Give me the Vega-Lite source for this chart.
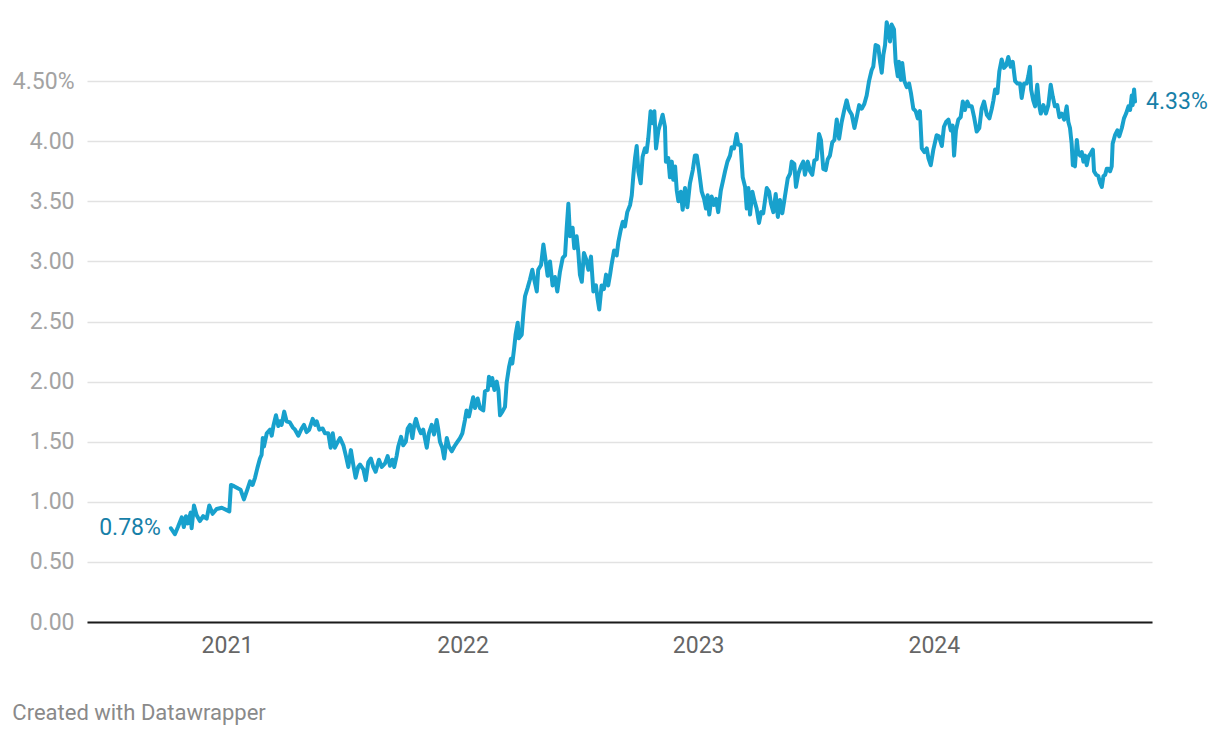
{
  "$schema": "https://vega.github.io/schema/vega-lite/v6.json",
  "width": 1065,
  "height": 601,
  "autosize": "none",
  "padding": {"left": 87, "top": 21, "right": 68, "bottom": 116},
  "background": "white",
  "config": {
    "font": "Roboto",
    "view": {"stroke": null},
    "axis": {"labelFont": "Roboto", "titleFont": "Roboto"}
  },
  "title": {
    "text": "Created with Datawrapper",
    "orient": "bottom",
    "anchor": "start",
    "frame": "bounds",
    "offset": 46,
    "font": "Roboto",
    "fontSize": 22,
    "fontWeight": "normal",
    "color": "#8a8a8a"
  },
  "datasets": {
    "series": [
      {"t": 2020.762, "v": 0.78}, {"t": 2020.779, "v": 0.73}, {"t": 2020.792, "v": 0.79}, {"t": 2020.808, "v": 0.87},
      {"t": 2020.817, "v": 0.79}, {"t": 2020.826, "v": 0.88}, {"t": 2020.834, "v": 0.82}, {"t": 2020.846, "v": 0.91},
      {"t": 2020.850, "v": 0.78}, {"t": 2020.860, "v": 0.97}, {"t": 2020.871, "v": 0.89}, {"t": 2020.885, "v": 0.84},
      {"t": 2020.899, "v": 0.88}, {"t": 2020.914, "v": 0.86}, {"t": 2020.925, "v": 0.97}, {"t": 2020.939, "v": 0.90},
      {"t": 2020.956, "v": 0.94}, {"t": 2020.978, "v": 0.95}, {"t": 2021.010, "v": 0.92}, {"t": 2021.017, "v": 1.14},
      {"t": 2021.030, "v": 1.13}, {"t": 2021.048, "v": 1.11}, {"t": 2021.058, "v": 1.10}, {"t": 2021.072, "v": 1.02},
      {"t": 2021.086, "v": 1.10}, {"t": 2021.098, "v": 1.17}, {"t": 2021.109, "v": 1.14}, {"t": 2021.119, "v": 1.20},
      {"t": 2021.129, "v": 1.28}, {"t": 2021.140, "v": 1.36}, {"t": 2021.147, "v": 1.39}, {"t": 2021.152, "v": 1.53},
      {"t": 2021.157, "v": 1.46}, {"t": 2021.169, "v": 1.57}, {"t": 2021.183, "v": 1.60}, {"t": 2021.190, "v": 1.55},
      {"t": 2021.197, "v": 1.63}, {"t": 2021.208, "v": 1.72}, {"t": 2021.218, "v": 1.63}, {"t": 2021.225, "v": 1.67},
      {"t": 2021.232, "v": 1.64}, {"t": 2021.243, "v": 1.75}, {"t": 2021.253, "v": 1.67}, {"t": 2021.267, "v": 1.66},
      {"t": 2021.279, "v": 1.62}, {"t": 2021.289, "v": 1.60}, {"t": 2021.303, "v": 1.55}, {"t": 2021.317, "v": 1.61},
      {"t": 2021.327, "v": 1.64}, {"t": 2021.338, "v": 1.58}, {"t": 2021.349, "v": 1.60}, {"t": 2021.364, "v": 1.69},
      {"t": 2021.374, "v": 1.64}, {"t": 2021.381, "v": 1.67}, {"t": 2021.392, "v": 1.60}, {"t": 2021.406, "v": 1.61},
      {"t": 2021.416, "v": 1.57}, {"t": 2021.430, "v": 1.57}, {"t": 2021.440, "v": 1.45}, {"t": 2021.449, "v": 1.57},
      {"t": 2021.458, "v": 1.45}, {"t": 2021.468, "v": 1.49}, {"t": 2021.480, "v": 1.53}, {"t": 2021.494, "v": 1.47},
      {"t": 2021.505, "v": 1.38}, {"t": 2021.515, "v": 1.29}, {"t": 2021.526, "v": 1.43}, {"t": 2021.536, "v": 1.31},
      {"t": 2021.546, "v": 1.20}, {"t": 2021.557, "v": 1.29}, {"t": 2021.565, "v": 1.31}, {"t": 2021.579, "v": 1.27},
      {"t": 2021.589, "v": 1.18}, {"t": 2021.600, "v": 1.33}, {"t": 2021.611, "v": 1.36}, {"t": 2021.621, "v": 1.29},
      {"t": 2021.631, "v": 1.25}, {"t": 2021.645, "v": 1.35}, {"t": 2021.657, "v": 1.29}, {"t": 2021.671, "v": 1.32},
      {"t": 2021.682, "v": 1.38}, {"t": 2021.692, "v": 1.30}, {"t": 2021.702, "v": 1.35}, {"t": 2021.710, "v": 1.29},
      {"t": 2021.720, "v": 1.38}, {"t": 2021.727, "v": 1.46}, {"t": 2021.739, "v": 1.54}, {"t": 2021.748, "v": 1.47},
      {"t": 2021.759, "v": 1.50}, {"t": 2021.767, "v": 1.61}, {"t": 2021.777, "v": 1.64}, {"t": 2021.787, "v": 1.53},
      {"t": 2021.795, "v": 1.64}, {"t": 2021.802, "v": 1.69}, {"t": 2021.812, "v": 1.62}, {"t": 2021.823, "v": 1.57},
      {"t": 2021.833, "v": 1.60}, {"t": 2021.840, "v": 1.53}, {"t": 2021.848, "v": 1.45}, {"t": 2021.857, "v": 1.57},
      {"t": 2021.869, "v": 1.64}, {"t": 2021.879, "v": 1.56}, {"t": 2021.890, "v": 1.68}, {"t": 2021.897, "v": 1.60},
      {"t": 2021.904, "v": 1.50}, {"t": 2021.914, "v": 1.45}, {"t": 2021.922, "v": 1.36}, {"t": 2021.933, "v": 1.53},
      {"t": 2021.942, "v": 1.46}, {"t": 2021.954, "v": 1.42}, {"t": 2021.965, "v": 1.46}, {"t": 2021.975, "v": 1.49},
      {"t": 2021.989, "v": 1.53}, {"t": 2021.999, "v": 1.57}, {"t": 2022.010, "v": 1.68}, {"t": 2022.017, "v": 1.76},
      {"t": 2022.027, "v": 1.71}, {"t": 2022.036, "v": 1.79}, {"t": 2022.045, "v": 1.87}, {"t": 2022.053, "v": 1.78},
      {"t": 2022.064, "v": 1.86}, {"t": 2022.074, "v": 1.78}, {"t": 2022.088, "v": 1.76}, {"t": 2022.095, "v": 1.92},
      {"t": 2022.107, "v": 1.93}, {"t": 2022.112, "v": 2.04}, {"t": 2022.121, "v": 1.97}, {"t": 2022.126, "v": 2.03},
      {"t": 2022.135, "v": 1.93}, {"t": 2022.145, "v": 2.00}, {"t": 2022.152, "v": 1.93}, {"t": 2022.159, "v": 1.72},
      {"t": 2022.169, "v": 1.75}, {"t": 2022.180, "v": 1.79}, {"t": 2022.187, "v": 1.99}, {"t": 2022.197, "v": 2.12},
      {"t": 2022.205, "v": 2.19}, {"t": 2022.211, "v": 2.15}, {"t": 2022.219, "v": 2.28}, {"t": 2022.225, "v": 2.39},
      {"t": 2022.234, "v": 2.49}, {"t": 2022.239, "v": 2.36}, {"t": 2022.251, "v": 2.39}, {"t": 2022.258, "v": 2.57},
      {"t": 2022.265, "v": 2.71}, {"t": 2022.276, "v": 2.78}, {"t": 2022.286, "v": 2.85}, {"t": 2022.296, "v": 2.93},
      {"t": 2022.304, "v": 2.85}, {"t": 2022.315, "v": 2.75}, {"t": 2022.321, "v": 2.93}, {"t": 2022.333, "v": 2.97},
      {"t": 2022.343, "v": 3.14}, {"t": 2022.353, "v": 3.00}, {"t": 2022.361, "v": 2.88}, {"t": 2022.371, "v": 3.00},
      {"t": 2022.382, "v": 2.80}, {"t": 2022.392, "v": 2.87}, {"t": 2022.402, "v": 2.75}, {"t": 2022.413, "v": 2.91},
      {"t": 2022.425, "v": 3.03}, {"t": 2022.435, "v": 3.05}, {"t": 2022.442, "v": 3.28}, {"t": 2022.449, "v": 3.48},
      {"t": 2022.456, "v": 3.21}, {"t": 2022.467, "v": 3.28}, {"t": 2022.474, "v": 3.11}, {"t": 2022.484, "v": 3.21},
      {"t": 2022.491, "v": 3.08}, {"t": 2022.498, "v": 2.89}, {"t": 2022.506, "v": 2.83}, {"t": 2022.515, "v": 3.07},
      {"t": 2022.524, "v": 3.02}, {"t": 2022.534, "v": 2.93}, {"t": 2022.545, "v": 3.04}, {"t": 2022.555, "v": 2.75},
      {"t": 2022.566, "v": 2.80}, {"t": 2022.573, "v": 2.69}, {"t": 2022.580, "v": 2.60}, {"t": 2022.590, "v": 2.80},
      {"t": 2022.600, "v": 2.77}, {"t": 2022.609, "v": 2.89}, {"t": 2022.618, "v": 2.80}, {"t": 2022.626, "v": 2.89},
      {"t": 2022.633, "v": 2.98}, {"t": 2022.643, "v": 3.09}, {"t": 2022.654, "v": 3.05}, {"t": 2022.661, "v": 3.16},
      {"t": 2022.671, "v": 3.26}, {"t": 2022.680, "v": 3.33}, {"t": 2022.689, "v": 3.29}, {"t": 2022.699, "v": 3.41},
      {"t": 2022.711, "v": 3.47}, {"t": 2022.718, "v": 3.55}, {"t": 2022.725, "v": 3.72}, {"t": 2022.732, "v": 3.86},
      {"t": 2022.739, "v": 3.96}, {"t": 2022.746, "v": 3.75}, {"t": 2022.756, "v": 3.65}, {"t": 2022.764, "v": 3.87},
      {"t": 2022.774, "v": 3.94}, {"t": 2022.781, "v": 3.91}, {"t": 2022.788, "v": 4.02}, {"t": 2022.798, "v": 4.25},
      {"t": 2022.807, "v": 4.15}, {"t": 2022.814, "v": 4.25}, {"t": 2022.821, "v": 3.94}, {"t": 2022.831, "v": 4.09},
      {"t": 2022.841, "v": 4.16}, {"t": 2022.849, "v": 4.22}, {"t": 2022.859, "v": 4.12}, {"t": 2022.863, "v": 3.83},
      {"t": 2022.873, "v": 3.86}, {"t": 2022.880, "v": 3.70}, {"t": 2022.888, "v": 3.83}, {"t": 2022.894, "v": 3.68},
      {"t": 2022.902, "v": 3.79}, {"t": 2022.909, "v": 3.59}, {"t": 2022.916, "v": 3.50}, {"t": 2022.926, "v": 3.58},
      {"t": 2022.934, "v": 3.43}, {"t": 2022.944, "v": 3.61}, {"t": 2022.954, "v": 3.45}, {"t": 2022.965, "v": 3.65},
      {"t": 2022.977, "v": 3.76}, {"t": 2022.986, "v": 3.88}, {"t": 2022.994, "v": 3.88}, {"t": 2023.003, "v": 3.76},
      {"t": 2023.015, "v": 3.58}, {"t": 2023.025, "v": 3.52}, {"t": 2023.033, "v": 3.44}, {"t": 2023.040, "v": 3.55},
      {"t": 2023.047, "v": 3.39}, {"t": 2023.057, "v": 3.54}, {"t": 2023.067, "v": 3.47}, {"t": 2023.076, "v": 3.52},
      {"t": 2023.085, "v": 3.41}, {"t": 2023.096, "v": 3.59}, {"t": 2023.104, "v": 3.66}, {"t": 2023.114, "v": 3.75},
      {"t": 2023.124, "v": 3.83}, {"t": 2023.135, "v": 3.88}, {"t": 2023.142, "v": 3.95}, {"t": 2023.152, "v": 3.94},
      {"t": 2023.163, "v": 4.06}, {"t": 2023.170, "v": 3.97}, {"t": 2023.180, "v": 3.97}, {"t": 2023.189, "v": 3.70},
      {"t": 2023.199, "v": 3.62}, {"t": 2023.206, "v": 3.44}, {"t": 2023.213, "v": 3.61}, {"t": 2023.220, "v": 3.39},
      {"t": 2023.230, "v": 3.58}, {"t": 2023.238, "v": 3.51}, {"t": 2023.248, "v": 3.44}, {"t": 2023.258, "v": 3.32},
      {"t": 2023.267, "v": 3.41}, {"t": 2023.276, "v": 3.40}, {"t": 2023.291, "v": 3.61}, {"t": 2023.301, "v": 3.58},
      {"t": 2023.309, "v": 3.48}, {"t": 2023.319, "v": 3.41}, {"t": 2023.329, "v": 3.56}, {"t": 2023.338, "v": 3.37},
      {"t": 2023.347, "v": 3.51}, {"t": 2023.357, "v": 3.40}, {"t": 2023.368, "v": 3.54}, {"t": 2023.380, "v": 3.69},
      {"t": 2023.390, "v": 3.73}, {"t": 2023.397, "v": 3.83}, {"t": 2023.408, "v": 3.81}, {"t": 2023.415, "v": 3.62},
      {"t": 2023.425, "v": 3.73}, {"t": 2023.436, "v": 3.79}, {"t": 2023.446, "v": 3.83}, {"t": 2023.453, "v": 3.72},
      {"t": 2023.465, "v": 3.83}, {"t": 2023.475, "v": 3.75}, {"t": 2023.484, "v": 3.72}, {"t": 2023.493, "v": 3.84},
      {"t": 2023.503, "v": 3.85}, {"t": 2023.513, "v": 4.06}, {"t": 2023.521, "v": 4.01}, {"t": 2023.531, "v": 3.77},
      {"t": 2023.541, "v": 3.76}, {"t": 2023.550, "v": 3.85}, {"t": 2023.559, "v": 3.88}, {"t": 2023.569, "v": 3.99},
      {"t": 2023.578, "v": 4.01}, {"t": 2023.588, "v": 4.18}, {"t": 2023.598, "v": 4.02}, {"t": 2023.609, "v": 4.16},
      {"t": 2023.620, "v": 4.26}, {"t": 2023.630, "v": 4.34}, {"t": 2023.640, "v": 4.26}, {"t": 2023.652, "v": 4.22},
      {"t": 2023.663, "v": 4.11}, {"t": 2023.673, "v": 4.20}, {"t": 2023.683, "v": 4.30}, {"t": 2023.694, "v": 4.27},
      {"t": 2023.705, "v": 4.31}, {"t": 2023.715, "v": 4.38}, {"t": 2023.725, "v": 4.50}, {"t": 2023.736, "v": 4.59},
      {"t": 2023.743, "v": 4.62}, {"t": 2023.753, "v": 4.80}, {"t": 2023.764, "v": 4.79}, {"t": 2023.772, "v": 4.66},
      {"t": 2023.779, "v": 4.57}, {"t": 2023.786, "v": 4.72}, {"t": 2023.793, "v": 4.80}, {"t": 2023.800, "v": 4.99},
      {"t": 2023.807, "v": 4.93}, {"t": 2023.814, "v": 4.83}, {"t": 2023.821, "v": 4.97}, {"t": 2023.831, "v": 4.93},
      {"t": 2023.838, "v": 4.66}, {"t": 2023.847, "v": 4.54}, {"t": 2023.852, "v": 4.66}, {"t": 2023.860, "v": 4.51},
      {"t": 2023.866, "v": 4.65}, {"t": 2023.875, "v": 4.50}, {"t": 2023.885, "v": 4.45}, {"t": 2023.895, "v": 4.48},
      {"t": 2023.903, "v": 4.40}, {"t": 2023.913, "v": 4.27}, {"t": 2023.923, "v": 4.25}, {"t": 2023.932, "v": 4.19},
      {"t": 2023.941, "v": 4.25}, {"t": 2023.949, "v": 3.94}, {"t": 2023.960, "v": 3.91}, {"t": 2023.970, "v": 3.94},
      {"t": 2023.977, "v": 3.86}, {"t": 2023.987, "v": 3.80}, {"t": 2023.998, "v": 3.93}, {"t": 2024.012, "v": 4.05},
      {"t": 2024.022, "v": 4.04}, {"t": 2024.034, "v": 3.96}, {"t": 2024.043, "v": 4.12}, {"t": 2024.052, "v": 4.16},
      {"t": 2024.062, "v": 4.18}, {"t": 2024.072, "v": 4.09}, {"t": 2024.080, "v": 4.13}, {"t": 2024.086, "v": 3.88},
      {"t": 2024.094, "v": 4.09}, {"t": 2024.104, "v": 4.18}, {"t": 2024.114, "v": 4.20}, {"t": 2024.123, "v": 4.33},
      {"t": 2024.132, "v": 4.26}, {"t": 2024.142, "v": 4.33}, {"t": 2024.151, "v": 4.29}, {"t": 2024.161, "v": 4.29},
      {"t": 2024.171, "v": 4.20}, {"t": 2024.182, "v": 4.08}, {"t": 2024.193, "v": 4.11}, {"t": 2024.203, "v": 4.27},
      {"t": 2024.213, "v": 4.33}, {"t": 2024.225, "v": 4.22}, {"t": 2024.236, "v": 4.19}, {"t": 2024.246, "v": 4.27},
      {"t": 2024.253, "v": 4.34}, {"t": 2024.260, "v": 4.43}, {"t": 2024.270, "v": 4.40}, {"t": 2024.278, "v": 4.58},
      {"t": 2024.288, "v": 4.68}, {"t": 2024.298, "v": 4.61}, {"t": 2024.307, "v": 4.63}, {"t": 2024.316, "v": 4.70},
      {"t": 2024.326, "v": 4.62}, {"t": 2024.335, "v": 4.66}, {"t": 2024.345, "v": 4.50}, {"t": 2024.355, "v": 4.48},
      {"t": 2024.366, "v": 4.48}, {"t": 2024.373, "v": 4.36}, {"t": 2024.383, "v": 4.48}, {"t": 2024.394, "v": 4.48},
      {"t": 2024.401, "v": 4.54}, {"t": 2024.408, "v": 4.62}, {"t": 2024.413, "v": 4.43}, {"t": 2024.422, "v": 4.34},
      {"t": 2024.430, "v": 4.29}, {"t": 2024.439, "v": 4.47}, {"t": 2024.448, "v": 4.29}, {"t": 2024.454, "v": 4.23},
      {"t": 2024.465, "v": 4.30}, {"t": 2024.476, "v": 4.23}, {"t": 2024.486, "v": 4.30}, {"t": 2024.496, "v": 4.47},
      {"t": 2024.505, "v": 4.37}, {"t": 2024.514, "v": 4.29}, {"t": 2024.524, "v": 4.30}, {"t": 2024.533, "v": 4.20},
      {"t": 2024.543, "v": 4.23}, {"t": 2024.553, "v": 4.18}, {"t": 2024.564, "v": 4.29}, {"t": 2024.571, "v": 4.16},
      {"t": 2024.578, "v": 4.11}, {"t": 2024.585, "v": 3.98}, {"t": 2024.590, "v": 3.80}, {"t": 2024.595, "v": 3.88},
      {"t": 2024.599, "v": 3.79}, {"t": 2024.607, "v": 4.01}, {"t": 2024.613, "v": 3.90}, {"t": 2024.621, "v": 3.88},
      {"t": 2024.628, "v": 3.91}, {"t": 2024.635, "v": 3.83}, {"t": 2024.642, "v": 3.88}, {"t": 2024.649, "v": 3.80},
      {"t": 2024.656, "v": 3.87}, {"t": 2024.666, "v": 3.90}, {"t": 2024.675, "v": 3.93}, {"t": 2024.680, "v": 3.75},
      {"t": 2024.689, "v": 3.72}, {"t": 2024.698, "v": 3.71}, {"t": 2024.706, "v": 3.65}, {"t": 2024.713, "v": 3.62},
      {"t": 2024.720, "v": 3.71}, {"t": 2024.727, "v": 3.72}, {"t": 2024.734, "v": 3.77}, {"t": 2024.741, "v": 3.77},
      {"t": 2024.748, "v": 3.75}, {"t": 2024.755, "v": 3.79}, {"t": 2024.759, "v": 3.98}, {"t": 2024.769, "v": 4.05},
      {"t": 2024.779, "v": 4.09}, {"t": 2024.787, "v": 4.04}, {"t": 2024.798, "v": 4.11}, {"t": 2024.807, "v": 4.19},
      {"t": 2024.816, "v": 4.23}, {"t": 2024.826, "v": 4.29}, {"t": 2024.833, "v": 4.26}, {"t": 2024.840, "v": 4.38},
      {"t": 2024.844, "v": 4.30}, {"t": 2024.850, "v": 4.43}, {"t": 2024.854, "v": 4.33}
    ],
    "startLabel": [{"t": 2020.762, "v": 0.78, "label": "0.78%"}],
    "endLabel": [{"t": 2024.854, "v": 4.33, "label": "4.33%"}]
  },
  "layer": [
    {
      "data": {"name": "series"},
      "mark": {"type": "line", "color": "#18a1cd", "strokeWidth": 4, "strokeJoin": "round", "strokeCap": "round"},
      "encoding": {
        "x": {
          "field": "t",
          "type": "quantitative",
          "scale": {"domain": [2020.406, 2024.926], "nice": false, "zero": false},
          "axis": {
            "values": [2021, 2022, 2023, 2024],
            "format": "d",
            "title": null,
            "grid": false,
            "ticks": false,
            "domain": true,
            "domainColor": "#1a1a1a",
            "domainWidth": 2,
            "labelFontSize": 23,
            "labelColor": "#666666",
            "labelPadding": 12,
            "labelFont": "Roboto"
          }
        },
        "y": {
          "field": "v",
          "type": "quantitative",
          "scale": {"domain": [0, 5], "nice": false},
          "axis": {
            "values": [0, 0.5, 1, 1.5, 2, 2.5, 3, 3.5, 4, 4.5],
            "labelExpr": "datum.value == 4.5 ? '4.50%' : format(datum.value, '.2f')",
            "title": null,
            "grid": true,
            "gridColor": "#e2e2e2",
            "gridWidth": 1.5,
            "ticks": false,
            "domain": false,
            "labelFontSize": 23,
            "labelColor": "#a3a3a3",
            "labelPadding": 13,
            "labelFont": "Roboto"
          }
        }
      }
    },
    {
      "data": {"name": "startLabel"},
      "mark": {"type": "text", "align": "right", "baseline": "middle", "dx": -10, "fontSize": 23, "font": "Roboto", "color": "#1780a8"},
      "encoding": {
        "x": {"field": "t", "type": "quantitative"},
        "y": {"field": "v", "type": "quantitative"},
        "text": {"field": "label"}
      }
    },
    {
      "data": {"name": "endLabel"},
      "mark": {"type": "text", "align": "left", "baseline": "middle", "dx": 11, "fontSize": 23, "font": "Roboto", "color": "#1780a8"},
      "encoding": {
        "x": {"field": "t", "type": "quantitative"},
        "y": {"field": "v", "type": "quantitative"},
        "text": {"field": "label"}
      }
    }
  ]
}
